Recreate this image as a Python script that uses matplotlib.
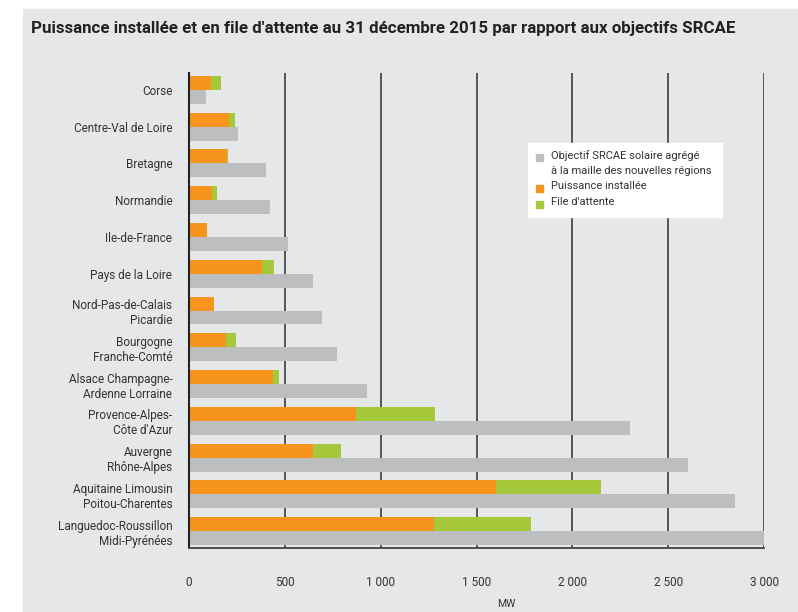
import numpy as np
import matplotlib
matplotlib.use("Agg")
import matplotlib.pyplot as plt
from matplotlib.patches import Rectangle

# data (MW)
regions = ["Corse", "Centre-Val de Loire", "Bretagne", "Normandie", "Ile-de-France",
           "Pays de la Loire", "Nord-Pas-de-Calais\nPicardie", "Bourgogne\nFranche-Comté",
           "Alsace Champagne-\nArdenne Lorraine", "Provence-Alpes-\nCôte d'Azur",
           "Auvergne\nRhône-Alpes", "Aquitaine Limousin\nPoitou-Charentes",
           "Languedoc-Roussillon\nMidi-Pyrénées"]
installee = [115, 209, 198, 120, 94, 381, 130, 193, 438, 871, 647, 1600, 1280]
attente = [52, 31, 5, 26, 0, 62, 0, 52, 32, 412, 146, 550, 505]
objectif = [89, 256, 400, 423, 517, 647, 694, 772, 928, 2300, 2603, 2850, 3000]
xticks = [0, 500, 1000, 1500, 2000, 2500, 3000]
xticklabels = ["0", "500", "1 000", "1 500", "2 000", "2 500", "3 000"]
legend_labels = ["Objectif SRCAE solaire agrégé\nà la maille des nouvelles régions",
                 "Puissance installée", "File d'attente"]
title = "Puissance installée et en file d'attente au 31 décembre 2015 par rapport aux objectifs SRCAE"

c_orange = "#f7941e"
c_green = "#a5c93b"
c_grey = "#bdbec0"
c_bg = "#e6e7e9"
c_text = "#333333"

plt.rcParams["font.family"] = ["Roboto", "DejaVu Sans"]

W, H = 798, 612
fig = plt.figure(figsize=(W / 100, H / 100), dpi=100, facecolor="white")
fig.patches.append(Rectangle((23 / W, 0), 1, 1 - 9 / H, transform=fig.transFigure,
                             color=c_bg, zorder=-10))

ax = fig.add_axes([189 / W, 1 - 548 / H, (764 - 189) / W, (548 - 73) / H])
ax.set_facecolor("none")

y = np.arange(len(regions))
h = 0.38
ax.barh(y - h / 2, installee, height=h, color=c_orange, zorder=2)
ax.barh(y - h / 2, attente, left=installee, height=h, color=c_green, zorder=2)
ax.barh(y + h / 2, objectif, height=h, color=c_grey, zorder=2)

ax.set_ylim(len(regions) - 0.54, -0.46)
ax.set_xlim(0, 3000)
ax.set_yticks(y)
ax.set_yticklabels(regions, fontsize=8.5, color=c_text)
ax.set_xticks(xticks)
ax.set_xticklabels(xticklabels, fontsize=8.5, color=c_text)
ax.tick_params(axis="y", length=0, pad=12)
ax.tick_params(axis="x", length=0, pad=20)
for x in xticks[1:]:
    ax.axvline(x, color="#4a4a4a", lw=1.3, zorder=1)
for s in ["top", "right"]:
    ax.spines[s].set_visible(False)
ax.spines["left"].set_color("#222222")
ax.spines["left"].set_linewidth(1.5)
ax.spines["bottom"].set_color("#444444")
ax.spines["bottom"].set_linewidth(1.3)

t = fig.text(31 / W, 1 - 29 / H, title, fontsize=11, fontweight="bold",
             color="#222222", va="center")
# shrink the title to the reference width (31 -> 737 px)
r = fig.canvas.get_renderer()
tw = t.get_window_extent(r).width
t.set_fontsize(11 * 706 / tw)

fig.text(506 / W, 1 - 604 / H, "MW", fontsize=7.5, color=c_text, ha="center", va="center")

# legend box
fig.patches.append(Rectangle((528 / W, 1 - 217 / H), (722 - 528) / W, (217 - 143) / H,
                             transform=fig.transFigure, color="white", zorder=3))
leg_colors = [c_grey, c_orange, c_green]
leg_y = [157, 188, 204]
for lab, col, ly in zip(legend_labels, leg_colors, leg_y):
    fig.patches.append(Rectangle((536 / W, 1 - (ly + 3.5) / H), 7 / W, 7 / H,
                                 transform=fig.transFigure, color=col, zorder=4))
    fig.text(551 / W, 1 - (ly - 7) / H, lab, fontsize=8, color=c_text, va="top",
             linespacing=1.6, zorder=5)

fig.savefig("out.png", dpi=100, facecolor="white")
